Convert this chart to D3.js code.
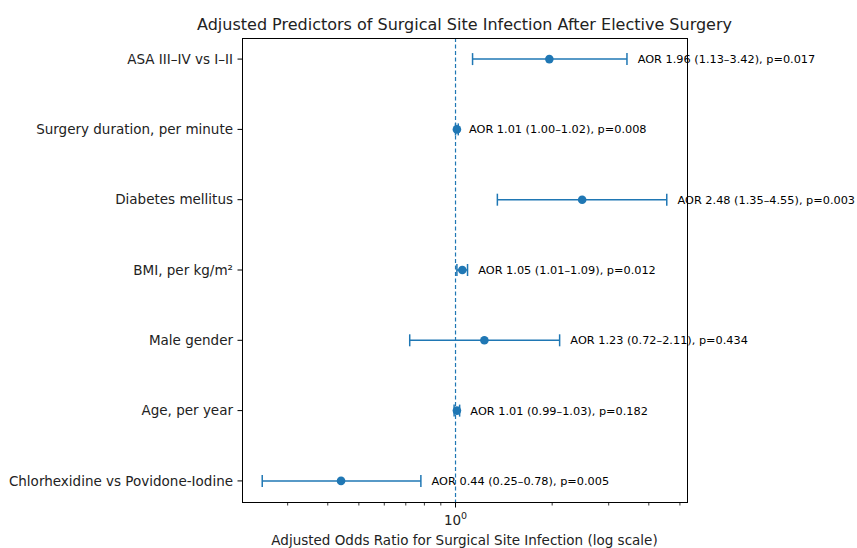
<!DOCTYPE html>
<html>
<head>
<meta charset="utf-8">
<script src="https://cdn.jsdelivr.net/npm/d3@7"></script>
<style>
  body { margin: 0; background: #fff; }
  svg { font-family: "DejaVu Sans", sans-serif; }
</style>
</head>
<body>
<div id="chart"></div>
<script>
// forest plot data, top row first
const predictors = ["ASA III–IV vs I–II", "Surgery duration, per minute", "Diabetes mellitus",
  "BMI, per kg/m²", "Male gender", "Age, per year", "Chlorhexidine vs Povidone-Iodine"];
const aor = [1.96, 1.01, 2.48, 1.05, 1.23, 1.01, 0.44];
const ciLow = [1.13, 1.00, 1.35, 1.01, 0.72, 0.99, 0.25];
const ciHigh = [3.42, 1.02, 4.55, 1.09, 2.11, 1.03, 0.78];
const pValues = ["0.017", "0.008", "0.003", "0.012", "0.434", "0.182", "0.005"];
const minorTicks = [0.3, 0.4, 0.5, 0.6, 0.7, 0.8, 0.9, 2, 3, 4, 5];

const width = 857;
const height = 548;
const margin = {left: 242, right: 170, top: 38, bottom: 46};
const blue = "#1f77b4";

const svg = d3.select("#chart")
  .append("svg")
  .attr("width", width)
  .attr("height", height);

// log x scale with matplotlib-like 5% padding
const lo = Math.log10(d3.min(ciLow)), hi = Math.log10(d3.max(ciHigh));
const pad = (hi - lo) * 0.05;
const xScale = d3.scaleLog()
  .domain([Math.pow(10, lo - pad), Math.pow(10, hi + pad)])
  .range([margin.left, width - margin.right]);

const n = predictors.length;
const yScale = d3.scaleLinear()
  .domain([-0.3, n - 1 + 0.3])
  .range([margin.top, height - margin.bottom]);

// reference line at 1
svg.append("line")
  .attr("x1", xScale(1)).attr("x2", xScale(1))
  .attr("y1", margin.top).attr("y2", height - margin.bottom)
  .attr("stroke", blue)
  .attr("stroke-width", 1.2)
  .attr("stroke-dasharray", "4,2.5");

// error bars
const rows = svg.selectAll(".row")
  .data(predictors)
  .enter()
  .append("g")
  .attr("class", "row");

rows.append("line")
  .attr("x1", (d, i) => xScale(ciLow[i]))
  .attr("x2", (d, i) => xScale(ciHigh[i]))
  .attr("y1", (d, i) => yScale(i))
  .attr("y2", (d, i) => yScale(i))
  .attr("stroke", blue).attr("stroke-width", 1.5);

[ciLow, ciHigh].forEach(arr => {
  rows.append("line")
    .attr("x1", (d, i) => xScale(arr[i]))
    .attr("x2", (d, i) => xScale(arr[i]))
    .attr("y1", (d, i) => yScale(i) - 6)
    .attr("y2", (d, i) => yScale(i) + 6)
    .attr("stroke", blue).attr("stroke-width", 1.5);
});

rows.append("circle")
  .attr("cx", (d, i) => xScale(aor[i]))
  .attr("cy", (d, i) => yScale(i))
  .attr("r", 4.3)
  .attr("fill", blue);

// frame
svg.append("rect")
  .attr("x", margin.left + 0.5)
  .attr("y", margin.top + 0.5)
  .attr("width", width - margin.right - margin.left)
  .attr("height", height - margin.bottom - margin.top)
  .attr("fill", "none")
  .attr("stroke", "#000")
  .attr("stroke-width", 1);

// annotations
rows.append("text")
  .attr("x", (d, i) => xScale(ciHigh[i] * 1.08))
  .attr("y", (d, i) => yScale(i))
  .attr("dy", "0.35em")
  .attr("font-size", "11.3px")
  .attr("fill", "#000")
  .text((d, i) => `AOR ${aor[i].toFixed(2)} (${ciLow[i].toFixed(2)}–${ciHigh[i].toFixed(2)}), p=${pValues[i]}`);

// y axis ticks + labels
const yAxis = svg.append("g");
predictors.forEach((p, i) => {
  yAxis.append("line")
    .attr("x1", margin.left - 4.5).attr("x2", margin.left)
    .attr("y1", yScale(i)).attr("y2", yScale(i))
    .attr("stroke", "#000").attr("stroke-width", 1);
  yAxis.append("text")
    .attr("x", margin.left - 9)
    .attr("y", yScale(i))
    .attr("dy", "0.35em")
    .attr("text-anchor", "end")
    .attr("font-size", "13.5px")
    .attr("fill", "#222")
    .text(p);
});

// x axis ticks
const xBase = height - margin.bottom + 0.5;
minorTicks.forEach(t => {
  svg.append("line")
    .attr("x1", xScale(t)).attr("x2", xScale(t))
    .attr("y1", xBase).attr("y2", xBase + 3)
    .attr("stroke", "#000").attr("stroke-width", 0.8);
});
svg.append("line")
  .attr("x1", xScale(1)).attr("x2", xScale(1))
  .attr("y1", xBase).attr("y2", xBase + 5)
  .attr("stroke", "#000").attr("stroke-width", 1);

const major = svg.append("text")
  .attr("x", xScale(1))
  .attr("y", xBase + 22)
  .attr("text-anchor", "middle")
  .attr("font-size", "13.5px")
  .attr("fill", "#222");
major.append("tspan").text("10");
major.append("tspan").attr("font-size", "9.5px").attr("dy", "-6").text("0");

// axis label
svg.append("text")
  .attr("x", (margin.left + width - margin.right) / 2)
  .attr("y", 545)
  .attr("text-anchor", "middle")
  .attr("font-size", "13.5px")
  .attr("fill", "#222")
  .text("Adjusted Odds Ratio for Surgical Site Infection (log scale)");

// title
svg.append("text")
  .attr("x", (margin.left + width - margin.right) / 2)
  .attr("y", 30)
  .attr("text-anchor", "middle")
  .attr("font-size", "16px")
  .attr("fill", "#222")
  .text("Adjusted Predictors of Surgical Site Infection After Elective Surgery");
</script>
</body>
</html>
